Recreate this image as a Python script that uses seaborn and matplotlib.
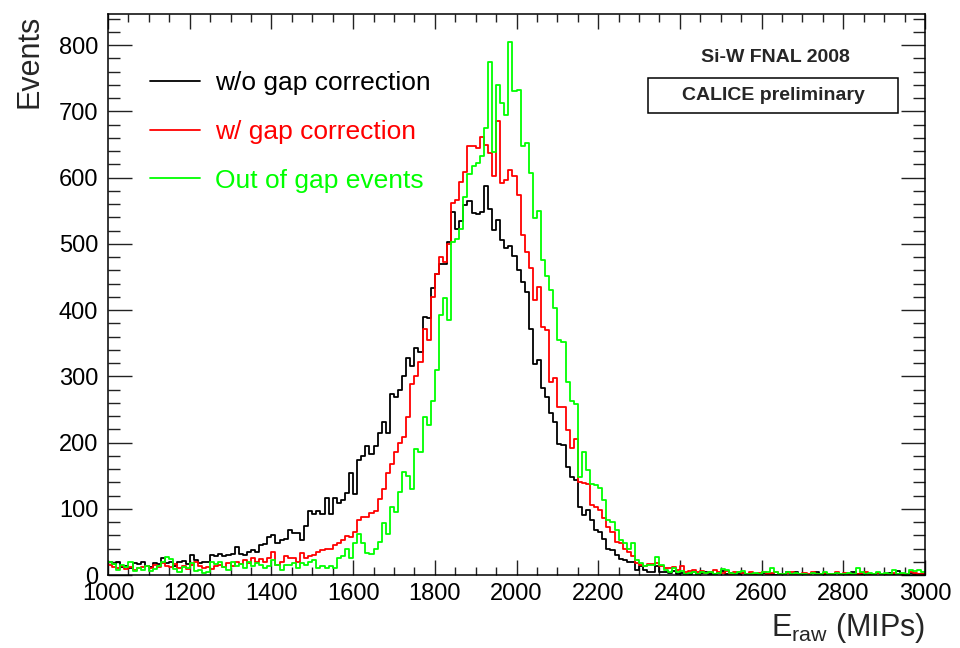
import numpy as np
import pandas as pd
import matplotlib
matplotlib.use("Agg")
import matplotlib.pyplot as plt
import seaborn as sns
from matplotlib.ticker import MultipleLocator
from matplotlib.lines import Line2D
from matplotlib.patches import Rectangle

# ---------------- data (10 MIP bins from 1000 to 3000) ----------------
E_MIN, E_MAX, BIN_W = 1000, 3000, 10

wo_gap = [
    19, 17, 19, 12, 14, 10, 18, 16, 19, 13,
    12, 18, 16, 25, 18, 20, 14, 19, 21, 17,
    30, 22, 18, 20, 19, 30, 28, 31, 29, 30,
    31, 43, 32, 30, 35, 37, 35, 46, 47, 58,
    60, 48, 53, 54, 68, 63, 63, 53, 74, 96,
    92, 96, 92, 116, 92, 116, 109, 113, 124, 154,
    123, 174, 179, 195, 183, 195, 214, 231, 214, 274,
    269, 279, 300, 327, 315, 342, 337, 390, 388, 433,
    455, 470, 470, 503, 548, 523, 535, 558, 565, 546,
    545, 548, 587, 552, 521, 536, 506, 494, 496, 481,
    461, 443, 428, 372, 318, 325, 283, 269, 244, 231,
    198, 196, 163, 148, 144, 103, 91, 98, 83, 68,
    65, 54, 40, 38, 30, 24, 23, 20, 20, 8,
    13, 8, 5, 5, 13, 5, 4, 3, 6, 2,
    3, 1, 2, 4, 1, 3, 5, 2, 1, 3,
    6, 2, 3, 1, 2, 3, 1, 2, 0, 1,
    3, 1, 2, 0, 1, 2, 5, 1, 4, 2,
    1, 0, 3, 4, 2, 1, 2, 0, 3, 1,
    2, 1, 5, 2, 1, 2, 0, 1, 3, 1,
    2, 3, 1, 6, 2, 1, 3, 2, 1, 2,
]

w_gap = [
    15, 12, 10, 14, 9, 12, 8, 10, 12, 14,
    10, 15, 12, 18, 14, 12, 16, 10, 13, 9,
    15, 20, 14, 10, 12, 9, 14, 15, 12, 18,
    14, 20, 16, 22, 18, 26, 20, 24, 20, 25,
    35, 15, 20, 28, 25, 25, 20, 33, 25, 28,
    30, 35, 38, 39, 40, 45, 49, 53, 59, 58,
    65, 83, 87, 88, 93, 96, 115, 130, 154, 168,
    185, 200, 209, 239, 289, 300, 321, 372, 355, 420,
    455, 480, 473, 500, 562, 566, 594, 609, 647, 647,
    644, 662, 649, 637, 603, 685, 592, 597, 611, 602,
    574, 514, 488, 463, 415, 435, 375, 370, 292, 297,
    254, 254, 219, 191, 206, 141, 139, 138, 106, 103,
    98, 86, 73, 65, 50, 48, 40, 35, 28, 18,
    15, 13, 17, 17, 18, 13, 10, 10, 12, 8,
    14, 5, 6, 8, 4, 6, 3, 5, 8, 4,
    3, 6, 2, 4, 5, 3, 2, 4, 1, 3,
    5, 2, 3, 4, 1, 2, 3, 5, 2, 1,
    3, 2, 4, 1, 2, 3, 1, 2, 4, 1,
    3, 2, 1, 2, 3, 4, 1, 2, 3, 1,
    2, 1, 3, 2, 1, 2, 4, 3, 1, 2,
]

out_gap = [
    20, 17, 8, 15, 12, 19, 6, 10, 8, 13,
    6, 9, 14, 20, 27, 24, 9, 5, 12, 10,
    18, 6, 8, 3, 5, 19, 16, 20, 12, 8,
    19, 14, 17, 10, 19, 14, 18, 15, 10, 13,
    23, 15, 8, 15, 15, 18, 10, 18, 15, 20,
    23, 10, 13, 10, 13, 11, 25, 28, 40, 25,
    48, 62, 48, 33, 32, 40, 50, 78, 62, 102,
    95, 125, 155, 150, 130, 190, 185, 239, 226, 262,
    310, 392, 418, 385, 503, 508, 523, 571, 605, 617,
    622, 632, 675, 774, 639, 740, 712, 695, 805, 730,
    732, 647, 652, 607, 539, 549, 476, 451, 431, 403,
    355, 352, 292, 262, 258, 148, 185, 158, 138, 136,
    131, 113, 83, 80, 68, 53, 48, 39, 48, 23,
    18, 13, 15, 15, 27, 15, 8, 5, 10, 4,
    6, 2, 3, 5, 2, 4, 3, 5, 2, 3,
    9, 8, 3, 2, 4, 6, 2, 1, 3, 2,
    4, 5, 11, 4, 2, 1, 5, 2, 3, 1,
    2, 0, 3, 2, 1, 4, 2, 1, 3, 2,
    1, 3, 2, 10, 5, 2, 3, 1, 4, 2,
    3, 1, 7, 2, 3, 1, 7, 6, 8, 4,
]

series_names = ["w/o gap correction", "w/ gap correction", "Out of gap events"]
series_colors = ["#000000", "#ff0000", "#00ff00"]
x_ticks = [1000, 1200, 1400, 1600, 1800, 2000, 2200, 2400, 2600, 2800, 3000]
y_ticks = [0, 100, 200, 300, 400, 500, 600, 700, 800]

# ---------------- styling ----------------
sns.set_style("ticks")
plt.rcParams["font.family"] = ["Liberation Sans", "DejaVu Sans"]
plt.rcParams["mathtext.fontset"] = "custom"
plt.rcParams["mathtext.rm"] = "Liberation Sans"
plt.rcParams["mathtext.it"] = "Liberation Sans:italic"

W, H = 960, 648
fig = plt.figure(figsize=(W / 100, H / 100), dpi=100)
fig.patch.set_facecolor("white")
ax = fig.add_axes([108 / W, 1 - 575 / H, (925 - 108) / W, (575 - 14) / H])
ax.set_facecolor("white")

n_bins = (E_MAX - E_MIN) // BIN_W
centers = E_MIN + BIN_W / 2 + BIN_W * np.arange(n_bins)
df = pd.DataFrame({
    "E": np.tile(centers, 3),
    "N": np.array(wo_gap + w_gap + out_gap, dtype=float),
    "series": np.repeat(series_names, n_bins),
})

for name, col in zip(series_names, series_colors):
    sub = df[df["series"] == name].reset_index(drop=True)
    sns.histplot(data=sub, x="E", weights="N", binwidth=BIN_W,
                 binrange=(E_MIN, E_MAX), element="step", fill=False,
                 color=col, linewidth=1.3, ax=ax)

ax.set_xlim(E_MIN, E_MAX)
ax.set_ylim(0, 847)
ax.set_xticks(x_ticks)
ax.set_yticks(y_ticks)
ax.xaxis.set_minor_locator(MultipleLocator(50))
ax.yaxis.set_minor_locator(MultipleLocator(20))
ax.tick_params(axis="both", which="both", direction="in", top=True, right=True,
               width=1.0, color="#222222", labelsize=17, labelcolor="black")
ax.tick_params(axis="y", which="major", length=17, pad=7)
ax.tick_params(axis="y", which="minor", length=8.5)
ax.tick_params(axis="x", which="major", length=11, pad=6)
ax.tick_params(axis="x", which="minor", length=5.5)
ax.set_xlabel("")
ax.set_ylabel("")
for sp in ax.spines.values():
    sp.set_linewidth(1.1)
    sp.set_color("black")

# axis titles
fig.text(30 / W, 1 - 15 / H, "Events", rotation=90, ha="center", va="top", fontsize=22)
fig.text(925 / W, 1 - 628 / H, r"E$_{\mathrm{raw}}$ (MIPs)", ha="right", va="center", fontsize=22)

# legend
handles = [Line2D([], [], color=c, lw=1.3) for c in series_colors]
leg = ax.legend(handles, series_names, loc="upper left", frameon=False,
                bbox_to_anchor=(150 / W, 1 - 71 / H), bbox_transform=fig.transFigure,
                borderpad=0, borderaxespad=0, fontsize=19, handlelength=1.9,
                handletextpad=0.55, labelspacing=0.94, labelcolor="linecolor")

# annotation texts
fig.text(775 / W, 1 - 57 / H, "Si-W FNAL 2008", ha="center", va="center",
         fontsize=14, fontweight="bold")
fig.patches.append(Rectangle((648 / W, 1 - 113 / H), 250 / W, 35 / H,
                             transform=fig.transFigure, fill=False,
                             edgecolor="black", linewidth=1.1))
fig.text(773 / W, 1 - 96 / H, "CALICE preliminary", ha="center", va="center",
         fontsize=14, fontweight="bold")

fig.savefig("out.png", dpi=100, facecolor="white")
